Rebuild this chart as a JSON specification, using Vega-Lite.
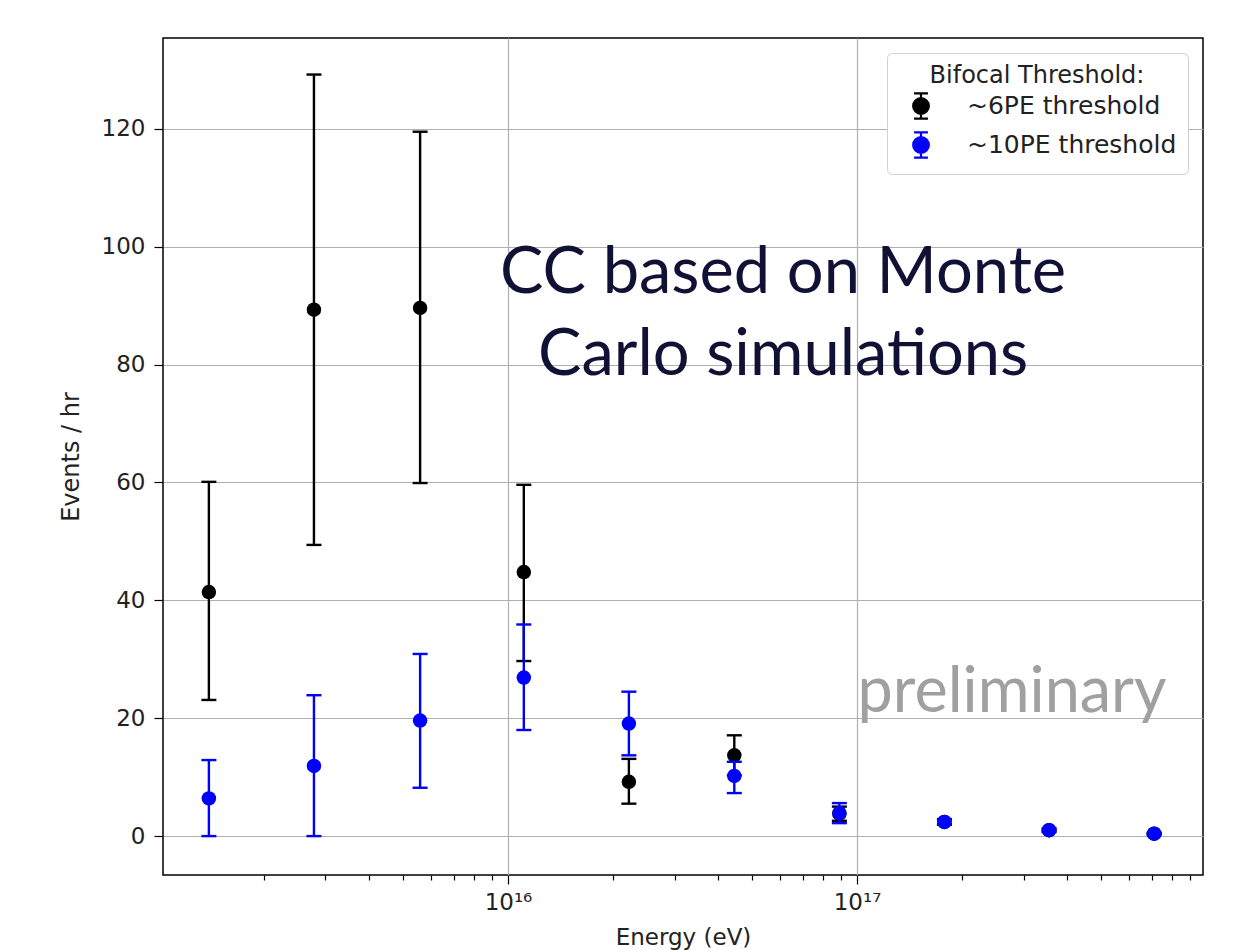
{
  "$schema": "https://vega.github.io/schema/vega-lite/v6.json",
  "width": 1040,
  "height": 837,
  "autosize": "none",
  "padding": {"left": 163, "top": 38, "right": 41, "bottom": 75},
  "background": "white",
  "config": {
    "view": {"stroke": "black", "strokeWidth": 1.5},
    "font": "DejaVu Sans"
  },
  "datasets": {
    "rates": [
      {"series": "~6PE threshold", "energy": 1.39e15, "rate": 41.4, "low": 23.1, "high": 60.1},
      {"series": "~6PE threshold", "energy": 2.78e15, "rate": 89.3, "low": 49.4, "high": 129.2},
      {"series": "~6PE threshold", "energy": 5.6e15, "rate": 89.6, "low": 59.9, "high": 119.5},
      {"series": "~6PE threshold", "energy": 1.11e16, "rate": 44.8, "low": 29.7, "high": 59.6},
      {"series": "~6PE threshold", "energy": 2.22e16, "rate": 9.2, "low": 5.5, "high": 13.1},
      {"series": "~6PE threshold", "energy": 4.45e16, "rate": 13.7, "low": 10.3, "high": 17.1},
      {"series": "~6PE threshold", "energy": 8.9e16, "rate": 3.8, "low": 2.6, "high": 5.0},
      {"series": "~6PE threshold", "energy": 1.78e17, "rate": 2.4, "low": 2.0, "high": 2.8},
      {"series": "~6PE threshold", "energy": 3.55e17, "rate": 1.0, "low": 0.8, "high": 1.2},
      {"series": "~6PE threshold", "energy": 7.1e17, "rate": 0.4, "low": 0.3, "high": 0.5},
      {"series": "~10PE threshold", "energy": 1.39e15, "rate": 6.4, "low": 0.0, "high": 12.9},
      {"series": "~10PE threshold", "energy": 2.78e15, "rate": 11.9, "low": 0.0, "high": 23.9},
      {"series": "~10PE threshold", "energy": 5.6e15, "rate": 19.6, "low": 8.2, "high": 30.9},
      {"series": "~10PE threshold", "energy": 1.11e16, "rate": 26.9, "low": 18.0, "high": 35.9},
      {"series": "~10PE threshold", "energy": 2.22e16, "rate": 19.1, "low": 13.7, "high": 24.5},
      {"series": "~10PE threshold", "energy": 4.45e16, "rate": 10.2, "low": 7.3, "high": 12.6},
      {"series": "~10PE threshold", "energy": 8.9e16, "rate": 3.9, "low": 2.2, "high": 5.6},
      {"series": "~10PE threshold", "energy": 1.78e17, "rate": 2.4, "low": 1.9, "high": 2.9},
      {"series": "~10PE threshold", "energy": 3.55e17, "rate": 1.0, "low": 0.7, "high": 1.3},
      {"series": "~10PE threshold", "energy": 7.1e17, "rate": 0.4, "low": 0.2, "high": 0.6}
    ],
    "notes": [
      {"kind": "title", "energy": 6.14e16, "rate": 92.2, "label": "CC based on Monte"},
      {"kind": "title", "energy": 6.14e16, "rate": 78.2, "label": "Carlo simulations"},
      {"kind": "stamp", "energy": 2.78e17, "rate": 21.0, "label": "preliminary"}
    ]
  },
  "encoding": {
    "x": {
      "field": "energy",
      "type": "quantitative",
      "scale": {"type": "log", "domain": [1.027e15, 9.8e17], "nice": false},
      "axis": {
        "title": "Energy (eV)",
        "titleFontSize": 23,
        "titleFontWeight": "normal",
        "titleColor": "#222222",
        "titlePadding": 12,
        "values": [2e15, 3e15, 4e15, 5e15, 6e15, 7e15, 8e15, 9e15, 1e16, 2e16, 3e16, 4e16, 5e16, 6e16, 7e16, 8e16, 9e16, 1e17, 2e17, 3e17, 4e17, 5e17, 6e17, 7e17, 8e17, 9e17],
        "labelExpr": "datum.value == 1e16 ? '10¹⁶' : (datum.value == 1e17 ? '10¹⁷' : '')",
        "labelFontSize": 23,
        "labelColor": "#222222",
        "labelPadding": 7,
        "labelFlush": false,
        "labelOverlap": false,
        "domain": false,
        "tickColor": "black",
        "tickWidth": 1.2,
        "tickSize": {"condition": {"test": "datum.value == 1e16 || datum.value == 1e17", "value": 9}, "value": 5},
        "grid": true,
        "gridColor": "#b0b0b0",
        "gridWidth": 1.2,
        "gridOpacity": {"condition": {"test": "datum.value == 1e16 || datum.value == 1e17", "value": 1}, "value": 0}
      }
    },
    "y": {
      "field": "rate",
      "type": "quantitative",
      "scale": {"domain": [-6.6, 135.4], "nice": false, "zero": false},
      "axis": {
        "title": "Events / hr",
        "titleFontSize": 24,
        "titleFontWeight": "normal",
        "titleColor": "#222222",
        "titlePadding": 18,
        "values": [0, 20, 40, 60, 80, 100, 120],
        "labelFontSize": 23,
        "labelColor": "#222222",
        "labelPadding": 9,
        "domain": false,
        "tickColor": "black",
        "tickWidth": 1.2,
        "tickSize": 9,
        "grid": true,
        "gridColor": "#b0b0b0",
        "gridWidth": 1.2
      }
    }
  },
  "layer": [
    {
      "data": {"name": "rates"},
      "transform": [{"filter": "datum.series == '~6PE threshold'"}],
      "mark": {"type": "rule", "strokeWidth": 2.4, "color": "#000000"},
      "encoding": {"y": {"field": "low", "type": "quantitative"}, "y2": {"field": "high"}}
    },
    {
      "data": {"name": "rates"},
      "transform": [{"filter": "datum.series == '~6PE threshold'"}, {"fold": ["low", "high"], "as": ["end", "bound"]}],
      "mark": {"type": "tick", "orient": "horizontal", "size": 15, "thickness": 2.4, "color": "#000000", "opacity": 1},
      "encoding": {"y": {"field": "bound", "type": "quantitative"}}
    },
    {
      "data": {"name": "rates"},
      "transform": [{"filter": "datum.series == '~6PE threshold'"}],
      "mark": {"type": "point", "shape": "circle", "filled": true, "opacity": 1, "size": 210},
      "encoding": {
        "color": {
          "field": "series",
          "type": "nominal",
          "scale": {"domain": ["~6PE threshold", "~10PE threshold"], "range": ["#000000", "#0000ff"]},
          "legend": {
            "title": "Bifocal Threshold:",
            "orient": "top-right",
            "offset": 15,
            "titleAnchor": "middle",
            "titleFontSize": 24,
            "titleFontWeight": "normal",
            "titleColor": "#222222",
            "titlePadding": 4,
            "titleLimit": 0,
            "labelFontSize": 25,
            "labelColor": "#222222",
            "labelLimit": 0,
            "labelOffset": 32,
            "symbolOffset": 9,
            "padding": 11,
            "strokeColor": "#d0d0d0",
            "fillColor": "white",
            "cornerRadius": 5,
            "rowPadding": 3,
            "symbolType": "M-0.55,-1H0.55M0,-1V1M-0.55,1H0.55M0.62,0A0.62,0.62,0,1,1,-0.62,0A0.62,0.62,0,1,1,0.62,0Z",
            "symbolSize": 640,
            "symbolOpacity": 1,
            "encode": {
              "symbols": {
                "update": {
                  "stroke": {"scale": "color", "field": "value"},
                  "strokeWidth": {"value": 2.2}
                }
              }
            }
          }
        }
      }
    },
    {
      "data": {"name": "rates"},
      "transform": [{"filter": "datum.series == '~10PE threshold'"}],
      "mark": {"type": "rule", "strokeWidth": 2.4, "color": "#0000ff"},
      "encoding": {"y": {"field": "low", "type": "quantitative"}, "y2": {"field": "high"}}
    },
    {
      "data": {"name": "rates"},
      "transform": [{"filter": "datum.series == '~10PE threshold'"}, {"fold": ["low", "high"], "as": ["end", "bound"]}],
      "mark": {"type": "tick", "orient": "horizontal", "size": 15, "thickness": 2.4, "color": "#0000ff", "opacity": 1},
      "encoding": {"y": {"field": "bound", "type": "quantitative"}}
    },
    {
      "data": {"name": "rates"},
      "transform": [{"filter": "datum.series == '~10PE threshold'"}],
      "mark": {"type": "point", "shape": "circle", "filled": true, "opacity": 1, "size": 210},
      "encoding": {
        "color": {"field": "series", "type": "nominal"}
      }
    },
    {
      "data": {"name": "notes"},
      "transform": [{"filter": "datum.kind == 'title'"}],
      "mark": {"type": "text", "font": "Lato", "fontSize": 65, "color": "#111136", "align": "center", "baseline": "alphabetic"},
      "encoding": {"text": {"field": "label"}}
    },
    {
      "data": {"name": "notes"},
      "transform": [{"filter": "datum.kind == 'stamp'"}],
      "mark": {"type": "text", "font": "Lato", "fontSize": 63, "color": "#a0a0a0", "align": "center", "baseline": "alphabetic"},
      "encoding": {"text": {"field": "label"}}
    }
  ]
}
